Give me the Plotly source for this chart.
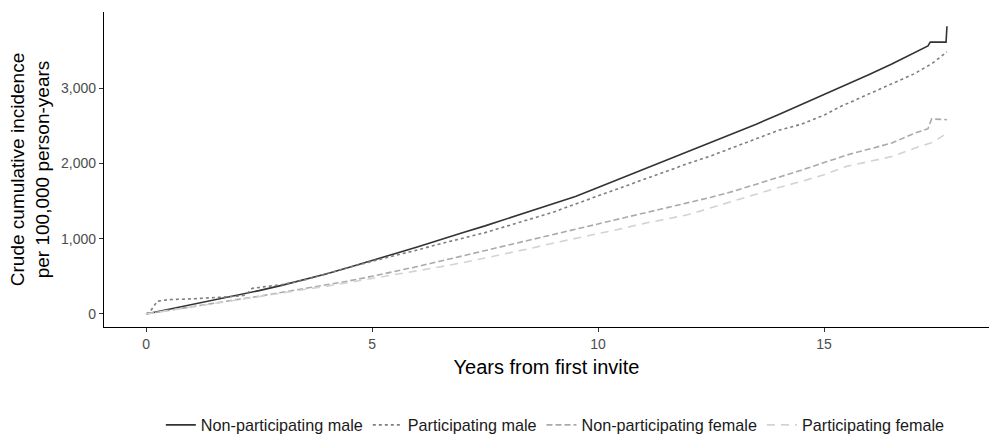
import plotly.graph_objects as go

# Non-participating male (solid)
npm_x = [0, 0.5, 1, 1.5, 2, 2.5, 3, 3.5, 4, 4.5, 5, 5.5, 6, 6.5, 7, 7.5, 8, 8.5, 9, 9.5,
         10, 10.5, 11, 11.5, 12, 12.5, 13, 13.5, 14, 14.5, 15, 15.5, 16, 16.5, 17, 17.3,
         17.35, 17.7, 17.72]
npm_y = [0, 60, 120, 180, 250, 310, 380, 455, 535, 620, 715, 800, 890, 990, 1080, 1170,
         1265, 1360, 1460, 1560, 1680, 1800, 1920, 2030, 2150, 2270, 2390, 2520, 2650, 2780,
         2910, 3040, 3180, 3320, 3470, 3560, 3610, 3610, 3820]

# Participating male (dotted)
pm_x = [0, 0.1, 0.25, 0.5, 1, 1.5, 2, 2.2, 2.35, 2.6, 3, 3.5, 4, 4.5, 5, 5.5, 6, 6.5, 7,
        7.5, 8, 8.5, 9, 9.5, 10, 10.5, 11, 11.5, 12, 12.5, 13, 13.5, 14, 14.5, 15, 15.35,
        15.5, 16, 16.5, 17, 17.4, 17.72]
pm_y = [0, 40, 170, 190, 200, 215, 235, 250, 340, 360, 390, 450, 540, 620, 700, 770, 850,
        930, 1000, 1080, 1170, 1260, 1350, 1460, 1570, 1670, 1780, 1890, 2000, 2100, 2210,
        2330, 2440, 2520, 2640, 2750, 2790, 2930, 3060, 3190, 3330, 3480]

# Non-participating female (dashed)
npf_x = [0, 0.5, 1, 1.5, 2, 2.5, 3, 3.5, 4, 4.5, 5, 5.5, 6, 6.5, 7, 7.5, 8, 8.5, 9, 9.5,
         10, 10.5, 11, 11.5, 12, 12.5, 13, 13.5, 14, 14.5, 15, 15.5, 16, 16.5, 17, 17.3,
         17.38, 17.72]
npf_y = [0, 50, 95, 140, 190, 235, 285, 335, 390, 440, 500, 560, 630, 700, 770, 840, 910,
         990, 1060, 1130, 1200, 1260, 1330, 1400, 1470, 1550, 1630, 1720, 1810, 1910, 2010,
         2110, 2190, 2270, 2400, 2460, 2590, 2580]

# Participating female (long dashed)
pf_x = [0, 0.5, 1, 1.5, 2, 2.5, 3, 3.5, 4, 4.5, 5, 5.5, 6, 6.5, 7, 7.5, 8, 8.5, 9, 9.5,
        10, 10.5, 11, 11.5, 12, 12.5, 13, 13.5, 14, 14.5, 15, 15.5, 16, 16.5, 17, 17.4, 17.72]
pf_y = [0, 45, 90, 135, 180, 225, 270, 320, 370, 420, 470, 520, 570, 625, 680, 740, 800,
        870, 940, 1000, 1070, 1130, 1200, 1260, 1320, 1410, 1500, 1600, 1680, 1760, 1850,
        1960, 2020, 2090, 2200, 2280, 2400]

series = [
    ("Non-participating male", npm_x, npm_y, "#333333", "solid"),
    ("Participating male", pm_x, pm_y, "#7f7f7f", "3px,3px"),
    ("Non-participating female", npf_x, npf_y, "#aaaaaa", "6px,3px"),
    ("Participating female", pf_x, pf_y, "#d3d3d3", "8px,6px"),
]

fig = go.Figure()
for name, xs, ys, col, dash in series:
    fig.add_trace(go.Scatter(x=xs, y=ys, mode="lines", name=name,
                             line=dict(color=col, width=1.6, dash=dash)))

font = "Liberation Sans, Arial, sans-serif"
fig.update_layout(
    width=989, height=434,
    margin=dict(l=104, r=0, t=12, b=107),
    paper_bgcolor="white", plot_bgcolor="white",
    font=dict(family=font, color="#000000"),
    showlegend=True,
    legend=dict(orientation="h", x=0.51, xanchor="center", yref="container",
                y=0.02, yanchor="middle", font=dict(size=16.2, color="#1a1a1a"),
                itemwidth=30, tracegroupgap=0),
    xaxis=dict(range=[-0.93, 18.65], tickvals=[0, 5, 10, 15],
               showgrid=False, zeroline=False, showline=True, linecolor="#000000",
               linewidth=1.2, ticks="outside", ticklen=4, tickcolor="#333333",
               tickfont=dict(size=14, color="#4d4d4d"),
               title=dict(text="Years from first invite", font=dict(size=20, color="#000000"),
                          standoff=9)),
    yaxis=dict(range=[-173, 4010], tickvals=[0, 1000, 2000, 3000], tickformat=",",
               showgrid=False, zeroline=False, showline=True, linecolor="#000000",
               linewidth=1.2, ticks="outside", ticklen=4, tickcolor="#333333",
               tickfont=dict(size=14, color="#4d4d4d"),
               title=dict(text="Crude cumulative incidence<br>per 100,000 person-years",
                          font=dict(size=19, color="#000000"), standoff=6)),
)

fig.write_html("out.html")
